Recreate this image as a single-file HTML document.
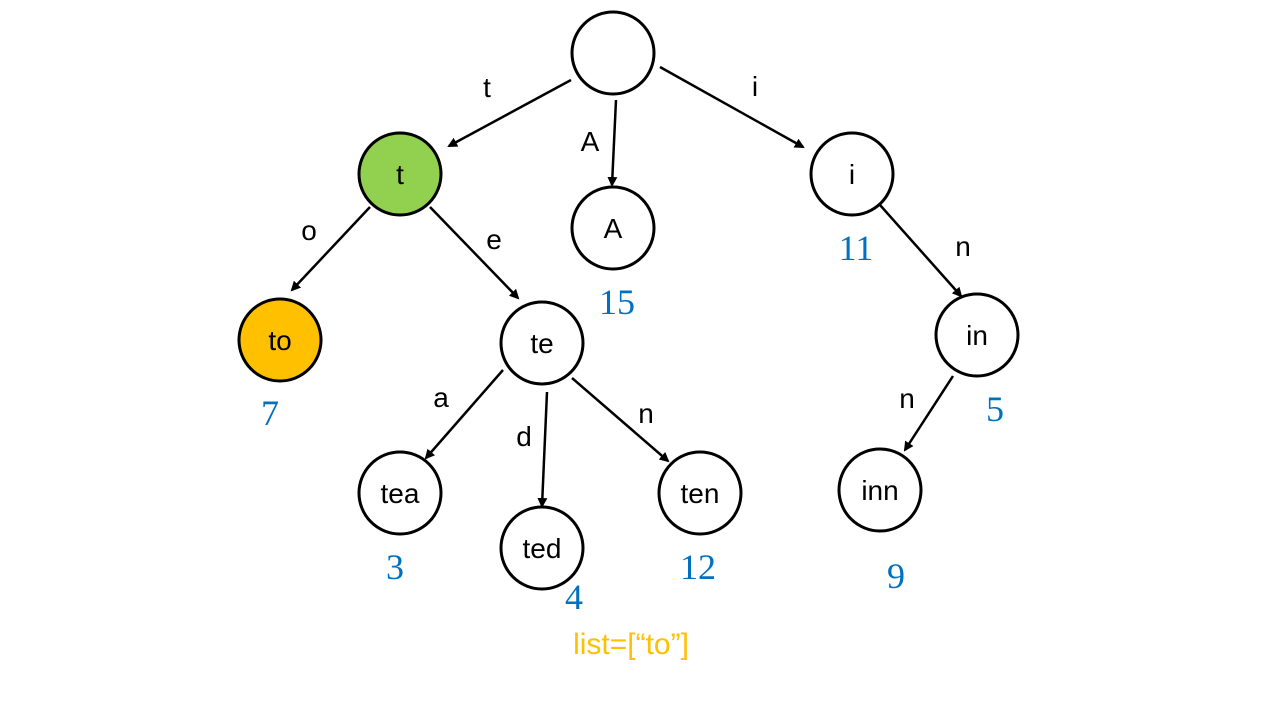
<!DOCTYPE html>
<html><head><meta charset="utf-8"><style>html,body{margin:0;padding:0;background:#fff}</style></head>
<body>
<svg width="1280" height="720" viewBox="0 0 1280 720" xmlns="http://www.w3.org/2000/svg">
<defs>
<marker id="ar" markerWidth="10" markerHeight="10" refX="8" refY="5" orient="auto" markerUnits="userSpaceOnUse">
<path d="M0,0 L10,5 L0,10 z" fill="#000"/>
</marker>
</defs>
<g stroke="#000" stroke-width="2.5" fill="none" marker-end="url(#ar)">
<line x1="571" y1="80" x2="449" y2="146"/>
<line x1="616" y1="100" x2="612" y2="185"/>
<line x1="660" y1="67" x2="803" y2="147"/>
<line x1="370" y1="207" x2="292" y2="290"/>
<line x1="430" y1="207" x2="518" y2="298"/>
<line x1="880" y1="205" x2="961" y2="296"/>
<line x1="503" y1="370" x2="426" y2="458"/>
<line x1="547" y1="392" x2="542" y2="506"/>
<line x1="572" y1="378" x2="668" y2="461"/>
<line x1="953" y1="376" x2="905" y2="450"/>
</g>
<g stroke="#000" stroke-width="3">
<circle cx="613" cy="53" r="41" fill="#fff"/>
<circle cx="400" cy="174" r="41" fill="#92D050"/>
<circle cx="613" cy="228" r="41" fill="#fff"/>
<circle cx="852" cy="174" r="41" fill="#fff"/>
<circle cx="280" cy="340" r="41" fill="#FFC000"/>
<circle cx="542" cy="343" r="41" fill="#fff"/>
<circle cx="977" cy="335" r="41" fill="#fff"/>
<circle cx="400" cy="493" r="41" fill="#fff"/>
<circle cx="542" cy="548" r="41" fill="#fff"/>
<circle cx="700" cy="493" r="41" fill="#fff"/>
<circle cx="880" cy="490" r="41" fill="#fff"/>
</g>
<g font-family="Liberation Sans, sans-serif" font-size="28" fill="#000" text-anchor="middle">
<text x="400" y="184">t</text>
<text x="613" y="238">A</text>
<text x="852" y="184">i</text>
<text x="280" y="350">to</text>
<text x="542" y="353">te</text>
<text x="977" y="345">in</text>
<text x="400" y="503">tea</text>
<text x="542" y="558">ted</text>
<text x="700" y="503">ten</text>
<text x="880" y="500">inn</text>
<text x="487" y="97">t</text>
<text x="590" y="151">A</text>
<text x="755" y="96">i</text>
<text x="309" y="240">o</text>
<text x="494" y="249">e</text>
<text x="963" y="256">n</text>
<text x="441" y="407">a</text>
<text x="524" y="446">d</text>
<text x="646" y="423">n</text>
<text x="907" y="408">n</text>
</g>
<g font-family="Liberation Serif, serif" font-size="36" fill="#0070C0" text-anchor="middle">
<text x="270" y="425">7</text>
<text x="617" y="314">15</text>
<text x="856" y="260">11</text>
<text x="995" y="421">5</text>
<text x="395" y="579">3</text>
<text x="574" y="609">4</text>
<text x="698" y="579">12</text>
<text x="896" y="588">9</text>
</g>
<text x="631" y="654" font-family="Liberation Sans, sans-serif" font-size="30" fill="#FFC000" text-anchor="middle">list=[“to”]</text>
</svg>
</body></html>
